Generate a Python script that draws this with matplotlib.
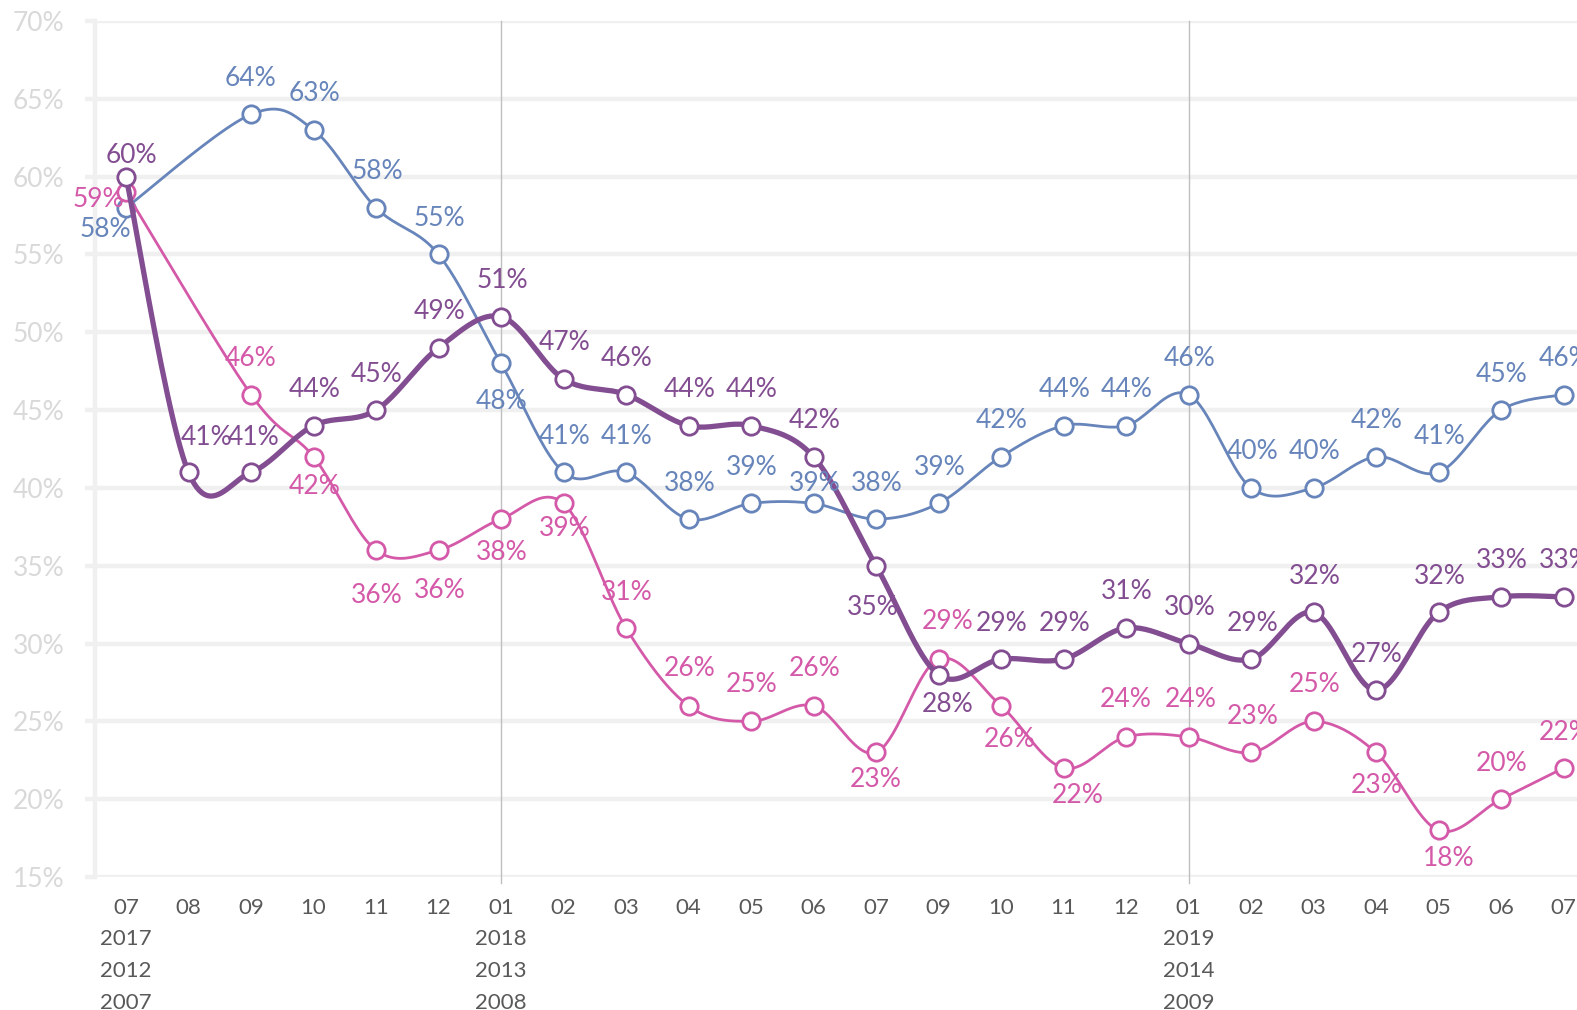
import numpy as np
import matplotlib
matplotlib.use("Agg")
import matplotlib.pyplot as plt
from matplotlib.transforms import blended_transform_factory

plt.rcParams['font.family'] = ['Lato', 'DejaVu Sans']

# ---------------- data ----------------
months = ["07", "08", "09", "10", "11", "12", "01", "02", "03", "04", "05", "06",
          "07", "09", "10", "11", "12", "01", "02", "03", "04", "05", "06", "07"]
year_labels = {0: ["2017", "2012", "2007"],
               6: ["2018", "2013", "2008"],
               17: ["2019", "2014", "2009"]}
year_lines = [6, 17]

blue = [58, np.nan, 64, 63, 58, 55, 48, 41, 41, 38, 39, 39, 38, 39, 42, 44, 44, 46,
        40, 40, 42, 41, 45, 46]
purple = [60, 41, 41, 44, 45, 49, 51, 47, 46, 44, 44, 42, 35, 28, 29, 29, 31, 30,
          29, 32, 27, 32, 33, 33]
pink = [59, np.nan, 46, 42, 36, 36, 38, 39, 31, 26, 25, 26, 23, 29, 26, 22, 24, 24,
        23, 25, 23, 18, 20, 22]

# label offsets in pixels (dx, dy up)
A = (1, 38)
blue_off = [(-21, -20), None, (0, 38), (1, 38), (1, 38), (1, 38), (1, -36), A, A, A, A,
            (1, 22), A, A, A, A, A, A, (2, 38), A, A, A, A, A]
purple_off = [(5, 23), (18, 37), (3, 37), A, A, A, A, A, A, A, A, A, (-3, -40), (9, -28),
              A, A, A, A, (2, 38), A, A, A, A, A]
pink_off = [(-28, -5), None, (0, 38), (1, -28), (1, -43), (1, -38), (1, -31), (1, -23),
            (1, 37), (1, 39), (1, 39), (1, 39), (0, -25), (9, 40), (9, -32), (14, -25),
            (0, 39), (2, 39), (2, 38), (1, 39), (1, -31), (10, -26), (1, 38), (1, 38)]

C_BLUE = "#6785BA"
C_PURPLE = "#834D91"
C_PINK = "#D45AA9"


def catmull(xs, ys, n=24):
    P = np.column_stack([xs, ys]).astype(float)
    out = [P[0]]
    m = len(P)
    for i in range(m - 1):
        p0 = P[i - 1] if i > 0 else P[i]
        p1 = P[i]
        p2 = P[i + 1]
        p3 = P[i + 2] if i + 2 < m else P[i + 1]
        c1 = p1 + (p2 - p0) / 6.0
        c2 = p2 - (p3 - p1) / 6.0
        t = np.linspace(0, 1, n)[1:, None]
        seg = ((1 - t) ** 3) * p1 + 3 * ((1 - t) ** 2) * t * c1 + 3 * (1 - t) * t ** 2 * c2 + t ** 3 * p2
        out.extend(seg)
    out = np.array(out)
    return out[:, 0], out[:, 1]


W, H = 1577, 1010
fig = plt.figure(figsize=(W / 100, H / 100), dpi=100)
left_px, right_px = 94.75, 1594.75
top_px, bot_px = 21, 877
ax = fig.add_axes([left_px / W, 1 - bot_px / H, (right_px - left_px) / W, (bot_px - top_px) / H])
ax.set_xlim(-0.5, len(months) - 0.5)
ax.set_ylim(0.15, 0.70)

# grid & axes styling
grid_c = "#F0F0F0"
ax.set_yticks(np.arange(0.15, 0.701, 0.05))
ax.set_yticklabels([f"{int(round(v * 100))}%" for v in np.arange(0.15, 0.701, 0.05)])
ax.yaxis.grid(True, color=grid_c, lw=3.2, zorder=0)
ax.set_axisbelow(True)
for s in ["top", "right", "bottom"]:
    ax.spines[s].set_visible(False)
ax.spines["left"].set_color(grid_c)
ax.spines["left"].set_linewidth(3.2)
ax.tick_params(axis="y", length=7, width=3.2, color=grid_c, labelcolor="#D9D9D9",
               labelsize=19, pad=15)

ax.set_xticks(range(len(months)))
ax.set_xticklabels(months)
ax.tick_params(axis="x", length=0, labelcolor="#595959", labelsize=16, pad=15)

trans = blended_transform_factory(ax.transData, fig.transFigure)
row_y = [939, 971, 1003]
for idx, labs in year_labels.items():
    for k, lab in enumerate(labs):
        ax.text(idx, 1 - row_y[k] / H, lab, transform=trans, ha="center", va="center",
                fontsize=16, color="#595959")

for idx in year_lines:
    ax.axvline(idx, ymin=-6 / 856, ymax=1, color="#BFBFBF", lw=1.0, zorder=1, clip_on=False)


def draw(vals, offs, color, lw, z):
    v = np.array(vals, dtype=float) / 100.0
    x = np.arange(len(v))
    ok = ~np.isnan(v)
    sx, sy = catmull(x[ok], v[ok])
    ax.plot(sx, sy, color=color, lw=lw, zorder=z, solid_capstyle="round",
            solid_joinstyle="round", clip_on=False)
    ax.plot(x[ok], v[ok], ls="none", marker="o", ms=12.5, mfc="white", mec=color,
            mew=2.0, zorder=z + 0.1, clip_on=False)
    for i in range(len(v)):
        if not ok[i] or offs[i] is None:
            continue
        dx, dy = offs[i]
        ax.annotate(f"{int(vals[i])}%", (x[i], v[i]), xytext=(dx, dy - 2),
                    textcoords="offset pixels", ha="center", va="center",
                    fontsize=19, color=color, zorder=20, annotation_clip=False)


draw(blue, blue_off, C_BLUE, 2.0, 3)
draw(pink, pink_off, C_PINK, 2.0, 4)
draw(purple, purple_off, C_PURPLE, 3.8, 5)

fig.savefig("out.png", dpi=100)
